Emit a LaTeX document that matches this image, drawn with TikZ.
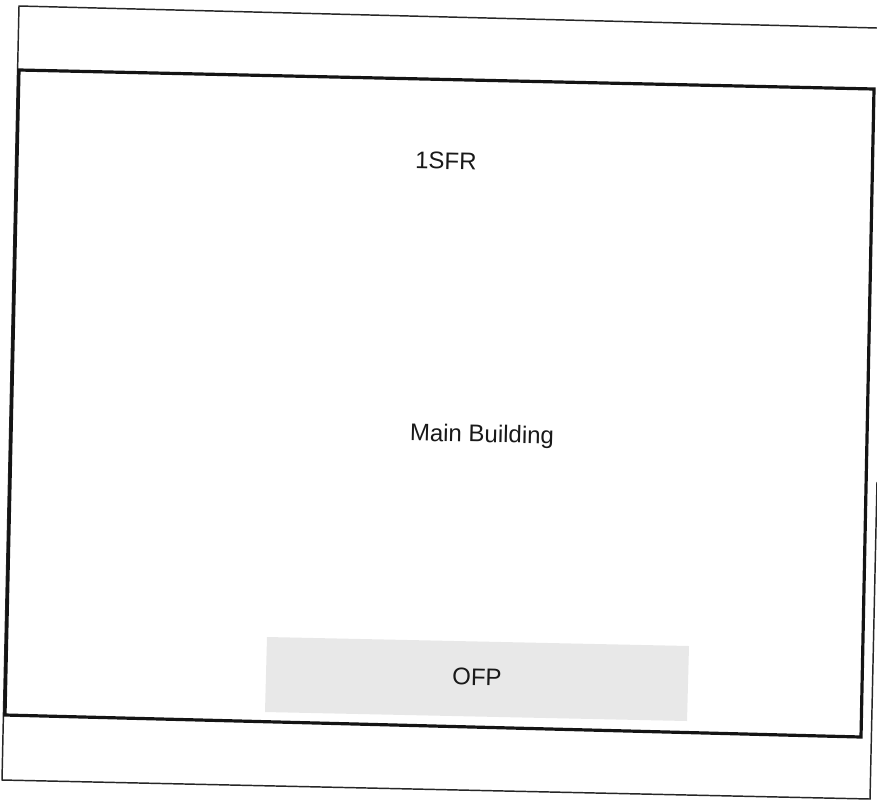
\documentclass[tikz,border=0pt]{standalone}
\usepackage{fontspec}
\setmainfont{Liberation Sans}
\begin{document}
\begin{tikzpicture}[x=0.75pt,y=-0.75pt,
  thinframe/.style={line width=1.1pt, black!85},
  thickframe/.style={line width=2.4pt, black!92, line join=miter},
  shade/.style={fill=gray!18},
  lbl/.style={font=\fontsize{18}{20}\selectfont, rotate=-1.3, inner sep=0pt, text=black!90}]
\useasboundingbox (0,0) rectangle (877,800);
\fill[white] (0,0) rectangle (877,800);
% outer thin frame (partly off page)
\draw[thinframe] (877,28) -- (19,6) -- (2,780) -- (870,799) -- (877,482);
% shaded OFP area
\fill[shade] (265,712) -- (687,721) -- (689,646) -- (267,637) -- cycle;
% main building outline
\draw[thickframe] (19,70) -- (874,89) -- (861,737) -- (5,715) -- cycle;
% labels
\node[lbl] (sfr) at (446,161) {1SFR};
\node[lbl] (main) at (482,436) {Main Building};
\node[lbl] (ofp) at (477,677) {OFP};
\end{tikzpicture}
\end{document}
